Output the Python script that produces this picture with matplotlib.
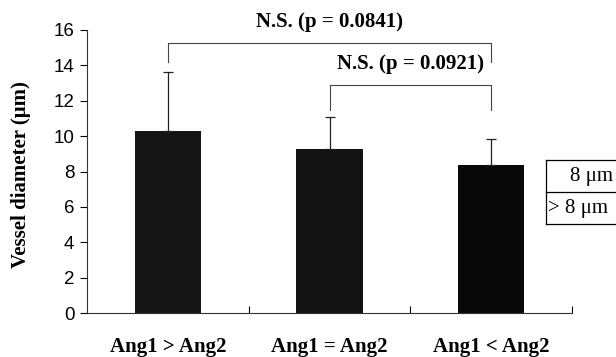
import matplotlib
matplotlib.use("Agg")
import matplotlib.pyplot as plt
from matplotlib.lines import Line2D

categories = ["Ang1 > Ang2", "Ang1 = Ang2", "Ang1 < Ang2"]
means = [10.3, 9.3, 8.35]
errors = [3.3, 1.8, 1.5]
bar_colors = ["#151515", "#131313", "#080808"]
yticks = [0, 2, 4, 6, 8, 10, 12, 14, 16]
comparisons = [
    # (left idx, right idx, bar height, leg bottom, label, label y)
    (0, 2, 15.25, 14.2, "N.S. (p = 0.0841)", 16.45),
    (1, 2, 12.9, 11.5, "N.S. (p = 0.0921)", 14.1),
]
legend_labels = ["8 μm", "> 8 μm"]

serif = ["Liberation Serif", "DejaVu Serif"]
sans = ["Liberation Sans", "DejaVu Sans"]

fig = plt.figure(figsize=(6.16, 3.57), dpi=100)
ax = fig.add_axes([87 / 616, 1 - 313 / 357, (572 - 87) / 616, (313 - 30) / 357])

xpos = [i + 0.5 for i in range(len(categories))]
ax.bar(xpos, means, width=0.41, color=bar_colors, edgecolor="none", zorder=2)
ax.errorbar(xpos, means, yerr=[[0] * len(means), errors], fmt="none",
            ecolor="#222222", elinewidth=0.9, capsize=3.5, capthick=0.9, zorder=3)

ax.set_xlim(0, 3)
ax.set_ylim(0, 16)
ax.set_yticks(yticks)
ax.set_yticklabels([str(t) for t in yticks], fontfamily=sans, fontsize=13.5)
ax.tick_params(axis="y", direction="out", length=5, width=0.8, pad=4)

ax.set_xticks(xpos)
ax.set_xticklabels(categories, fontfamily=serif, fontweight="bold", fontsize=15)
ax.tick_params(axis="x", which="major", length=0, pad=17)
ax.set_xticks([1, 2, 3], minor=True)
ax.tick_params(axis="x", which="minor", direction="in", length=5, width=0.8)

for s in ["top", "right"]:
    ax.spines[s].set_visible(False)
for s in ["left", "bottom"]:
    ax.spines[s].set_linewidth(0.8)
    ax.spines[s].set_color("#333333")

ax.set_ylabel("Vessel diameter (μm)", fontfamily=serif, fontweight="bold",
              fontsize=15)
ax.yaxis.set_label_coords((31 - 87) / 485, 0.49)

for li, ri, h, bot, label, ly in comparisons:
    xl, xr = xpos[li], xpos[ri]
    ax.plot([xl, xl, xr, xr], [bot, h, h, bot], color="#444444", lw=0.8,
            clip_on=False, zorder=4)
    ax.text((xl + xr) / 2, ly, label, ha="center", va="center",
            fontfamily=serif, fontweight="bold", fontsize=15, clip_on=False)

# cropped legend box on the right edge
x0 = 546 / 616
ys = [1 - 160 / 357, 1 - 192 / 357, 1 - 224 / 357]
fig.add_artist(Line2D([x0, x0], [ys[2], ys[0]], color="black", lw=0.9, transform=fig.transFigure))
for y in ys:
    fig.add_artist(Line2D([x0, 1.0], [y, y], color="black", lw=0.9, transform=fig.transFigure))
fig.text(613 / 616, (ys[0] + ys[1]) / 2, legend_labels[0], ha="right", va="center",
         fontfamily=serif, fontsize=15)
fig.text(548 / 616, (ys[1] + ys[2]) / 2, legend_labels[1], ha="left", va="center",
         fontfamily=serif, fontsize=15)

fig.savefig("out.png", dpi=100)
